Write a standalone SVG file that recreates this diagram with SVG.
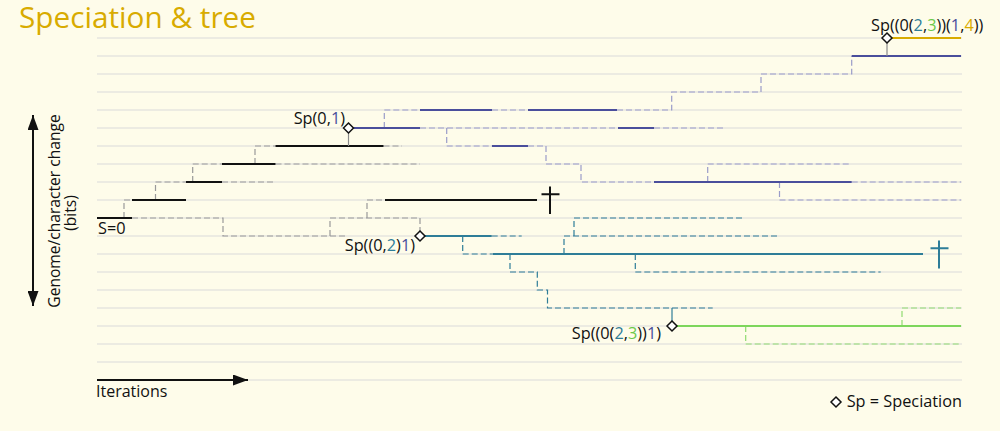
<svg xmlns="http://www.w3.org/2000/svg" xmlns:xlink="http://www.w3.org/1999/xlink" width="1000" height="431" viewBox="0 0 1000 431">
<style>
text{font-family:"Open Sans","Noto Sans","DejaVu Sans",sans-serif;fill:#111}
.grid line{stroke:#dadada;stroke-width:1}
.gd{fill:none;stroke:#999;stroke-width:1.2;stroke-dasharray:6 3}
.bk{fill:none;stroke:#111;stroke-width:2}
.bs{fill:none;stroke:#4a4e9c;stroke-width:2}
.bd{fill:none;stroke:#9a9cc9;stroke-width:1.2;stroke-dasharray:6 3}
.ts{fill:none;stroke:#2e7d98;stroke-width:2}
.td{fill:none;stroke:#2e7d98;stroke-width:1.2;stroke-dasharray:6 3}
.gs{fill:none;stroke:#7dd65c;stroke-width:2}
.gnd{fill:none;stroke:#8fdb70;stroke-width:1.2;stroke-dasharray:6 3}
.au{fill:none;stroke:#d8ab00;stroke-width:2}
.thin{fill:none;stroke:#8a8a8a;stroke-width:1.2}
.dia{fill:#fff;stroke:#111;stroke-width:1.5}
.cb{fill:#4a4e9c}.ct{fill:#2e7d98}.cg{fill:#6cc94a}.cy{fill:#d8ab00}
.lbl{font-size:16.3px}
.axis{fill:none;stroke:#111;stroke-width:2}
</style>
<defs>
<marker id="ah" markerUnits="userSpaceOnUse" viewBox="0 0 15 11" refX="15" refY="5.5" markerWidth="15" markerHeight="11" orient="auto-start-reverse">
<path d="M0,0 L15,5.5 L0,11 Z" fill="#111"/>
</marker>
<path id="dm" d="M0,-5 L5,0 L0,5 L-5,0 Z"/>
</defs>
<rect width="1000" height="431" fill="#fefcea"/>
<text x="19" y="27.5" textLength="237" lengthAdjust="spacingAndGlyphs" style="font-size:29px;fill:#d8ab00">Speciation &amp; tree</text>
<g class="grid" id="grid">
<line x1="97" y1="38" x2="962" y2="38"/><line x1="97" y1="56" x2="962" y2="56"/><line x1="97" y1="74" x2="962" y2="74"/><line x1="97" y1="92" x2="962" y2="92"/><line x1="97" y1="110" x2="962" y2="110"/><line x1="97" y1="128" x2="962" y2="128"/><line x1="97" y1="146" x2="962" y2="146"/><line x1="97" y1="164" x2="962" y2="164"/><line x1="97" y1="182" x2="962" y2="182"/><line x1="97" y1="200" x2="962" y2="200"/><line x1="97" y1="218" x2="962" y2="218"/><line x1="97" y1="236" x2="962" y2="236"/><line x1="97" y1="254" x2="962" y2="254"/><line x1="97" y1="272" x2="962" y2="272"/><line x1="97" y1="290" x2="962" y2="290"/><line x1="97" y1="308" x2="962" y2="308"/><line x1="97" y1="326" x2="962" y2="326"/><line x1="97" y1="344" x2="962" y2="344"/><line x1="97" y1="362" x2="962" y2="362"/><line x1="97" y1="380" x2="962" y2="380"/>
</g>
<g id="axes">
<line class="axis" x1="33" y1="115" x2="33" y2="306" marker-start="url(#ah)" marker-end="url(#ah)"/>
<line class="axis" x1="97" y1="380" x2="248" y2="380" marker-end="url(#ah)"/>
<text x="96" y="397" style="font-size:16px">Iterations</text>
<text transform="translate(59.5,211) rotate(-90)" text-anchor="middle" style="font-size:15.6px">Genome/character change</text>
<text transform="translate(75.5,213) rotate(-90)" text-anchor="middle" style="font-size:15.6px">(bits)</text>
</g>
<g id="connectors">
<g id="lineage-0">
<path class="gd" d="M132 218 H223 V236 H348 M124 218 V200 H132 M155.5 200 V182 H186 M192.7 182 V164 H222 M222 182 H276 M255 164 V146 H275.5 M275.5 164 H420 M383.5 146 H402 M330 236 V218 H420 V231 M367 218 V200 H385"/>
<path class="bk" d="M97 218 H132 M132 200 H186 M186 182 H222 M222 164 H275.5 M275.5 146 H383.5 M385 200 H537"/>
<path class="thin" d="M348.5 146 V133"/>
</g>
<g id="lineage-1">
<path class="bd" d="M420 128 H618 M654 128 H725 M384.3 128 V110 H420 M492 110 H528 M617 110 H671.7 V92 H761 V74 H851.7 V56 M446.7 128 V146 H492 M528 146 H546 V164 H581 V182 H654 M707.7 182 V164 H851.7 M851.7 182 H961 M779.5 182 V200 H961"/>
<path class="bs" d="M353.5 128 H420 M420 110 H492 M528 110 H617 M492 146 H528 M618 128 H654 M654 182 H851.7 M851.7 56 H961"/>
<path class="thin" d="M887 56 V43"/>
</g>
<g id="lineage-4">
<path class="au" d="M892 38 H961"/>
</g>
<g id="lineage-2">
<path class="td" d="M491.7 236 H521.7 M462.7 236 V254 H493 M510 254 V272 H537.3 V290 H547.5 V308 H712.7 M564 254 V236 H779.3 M574 236 V218 H743.3 M635.3 254 V272 H880.7"/>
<path class="ts" d="M425 236 H491.7 M493 254 H923"/>
<path class="ts" style="stroke-width:1.2" d="M672 308 V321"/>
</g>
<g id="lineage-3">
<path class="gnd" d="M745.7 326 V344 H961 M902 326 V308 H961"/>
<path class="gs" d="M677 326 H961"/>
</g>
</g>
<g id="extinct-0">
<path class="bk" d="M550 186.5 V214 M541.5 194.3 H559.5"/>
</g>
<g id="extinct-2">
<path class="ts" d="M939 240.5 V268.5 M930.5 248.3 H948.5"/>
</g>
<g id="start">
<text x="98" y="234" class="lbl">S=0</text>
</g>
<g id="sp-0-1">
<use xlink:href="#dm" href="#dm" class="dia" x="348.5" y="128"/>
<text x="345" y="124" text-anchor="end" class="lbl">Sp(0,<tspan class="cb">1</tspan>)</text>
</g>
<g id="sp-02-1">
<use xlink:href="#dm" href="#dm" class="dia" x="420" y="236"/>
<text x="415" y="251" text-anchor="end" class="lbl">Sp((0,<tspan class="ct">2</tspan>)<tspan class="cb">1</tspan>)</text>
</g>
<g id="sp-023-1">
<use xlink:href="#dm" href="#dm" class="dia" x="672" y="326"/>
<text x="661" y="339" text-anchor="end" class="lbl">Sp((0(<tspan class="ct">2</tspan>,<tspan class="cg">3</tspan>))<tspan class="cb">1</tspan>)</text>
</g>
<g id="sp-023-14">
<use xlink:href="#dm" href="#dm" class="dia" x="887" y="38"/>
<text x="871" y="31" class="lbl">Sp((0(<tspan class="ct">2</tspan>,<tspan class="cg">3</tspan>))(<tspan class="cb">1</tspan>,<tspan class="cy">4</tspan>))</text>
</g>
<g id="legend">
<use xlink:href="#dm" href="#dm" class="dia" x="836" y="402"/>
<text x="962" y="407" text-anchor="end" class="lbl">Sp = Speciation</text>
</g>
</svg>
